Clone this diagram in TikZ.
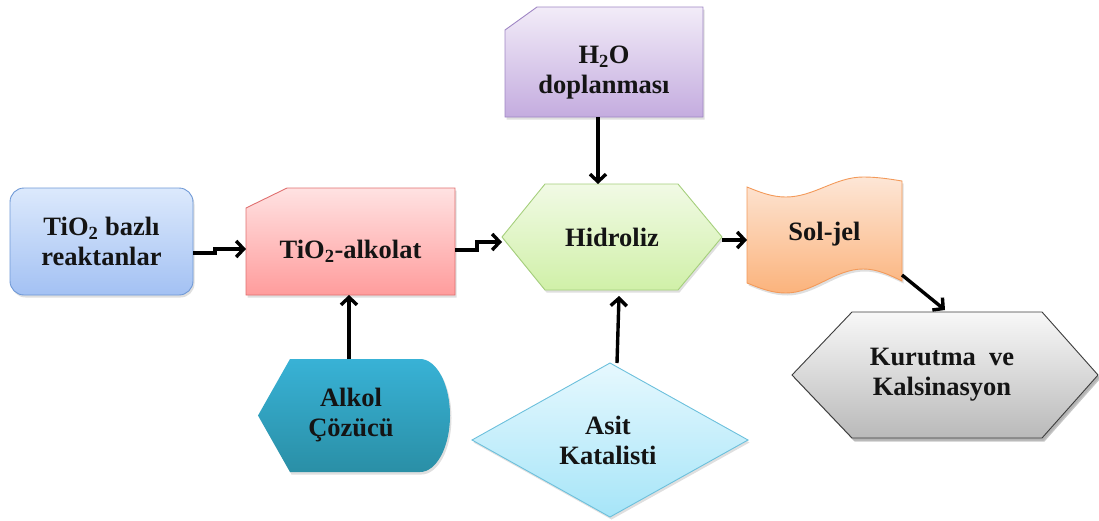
\documentclass[tikz,border=0pt]{standalone}
\usepackage{fontspec}
\setmainfont{Liberation Serif}
\usetikzlibrary{arrows.meta,shadows,calc}
\definecolor{reactT}{HTML}{DCE9FC}\definecolor{reactB}{HTML}{A3C1F3}\definecolor{reactD}{HTML}{6F99D6}
\definecolor{alkT}{HTML}{FFE2E2}\definecolor{alkB}{HTML}{FF9C9C}\definecolor{alkD}{HTML}{E07070}
\definecolor{hooT}{HTML}{F2ECF8}\definecolor{hooB}{HTML}{C4ACDF}\definecolor{hooD}{HTML}{9F86C4}
\definecolor{hydT}{HTML}{F1FAE5}\definecolor{hydB}{HTML}{D0F0A8}\definecolor{hydD}{HTML}{A5CF7C}
\definecolor{solT}{HTML}{FDE6D6}\definecolor{solB}{HTML}{FBB37C}\definecolor{solD}{HTML}{F39A5A}
\definecolor{alcT}{HTML}{38B2D6}\definecolor{alcB}{HTML}{2A8FA6}
\definecolor{asitT}{HTML}{E6F8FE}\definecolor{asitB}{HTML}{A6E5F8}\definecolor{asitD}{HTML}{6CC0DC}
\definecolor{kurT}{HTML}{F8F8F8}\definecolor{kurB}{HTML}{B9B9B9}\definecolor{kurD}{HTML}{3C3C3C}
\begin{document}
\begin{tikzpicture}[x=1pt,y=-1pt,
  box/.style={rectangle,inner sep=0pt,outer sep=0pt,draw=none},
  txt/.style={font=\fontsize{26.5}{30}\selectfont\bfseries,align=center,text=black!92,inner sep=0pt},
  shp/.style={line width=0.9pt,drop shadow={shadow xshift=1.5pt,shadow yshift=-2.5pt,opacity=0.25}},
  conn/.style={line width=3.4pt,black,-{Straight Barb[length=7.5pt,width=16pt]}}
]
\useasboundingbox (0,0) rectangle (1099,520);

% anchor nodes (shape frames)
\node[box,minimum width=183pt,minimum height=107pt] (react) at (101.5,241.5) {};
\node[box,minimum width=209pt,minimum height=107pt] (alk) at (350.5,241.5) {};
\node[box,minimum width=198pt,minimum height=110pt] (h2o) at (604,62) {};
\node[box,minimum width=220pt,minimum height=106pt] (hyd) at (612,237) {};
\node[box,minimum width=155pt,minimum height=118pt] (sol) at (824.5,234) {};
\node[box,minimum width=192pt,minimum height=113pt] (alc) at (354,415.5) {};
\node[box,minimum width=276pt,minimum height=154pt] (asit) at (610,440) {};
\node[box,minimum width=306pt,minimum height=126pt] (kur) at (945,375) {};

% shapes
\path[shp,draw=reactD,top color=reactT,bottom color=reactB,rounded corners=14pt]
  (react.north west) rectangle (react.south east);
\path[shp,draw=alkD,top color=alkT,bottom color=alkB]
  ($(alk.north west)+(0,20)$) -- ($(alk.north west)+(41,0)$) -- (alk.north east)
  -- (alk.south east) -- (alk.south west) -- cycle;
\path[shp,draw=hooD,top color=hooT,bottom color=hooB]
  ($(h2o.north west)+(0,23)$) -- ($(h2o.north west)+(32,0)$) -- (h2o.north east)
  -- (h2o.south east) -- (h2o.south west) -- cycle;
\path[shp,draw=hydD,top color=hydT,bottom color=hydB]
  (hyd.west) -- ($(hyd.north west)+(43,0)$) -- ($(hyd.north east)+(-44,0)$) -- (hyd.east)
  -- ($(hyd.south east)+(-44,0)$) -- ($(hyd.south west)+(43,0)$) -- cycle;
\path[shp,draw=solD,top color=solT,bottom color=solB]
  ($(sol.north west)+(0,12)$) sin ($(sol.north west)+(38.75,22)$) cos ($(sol.north west)+(77.5,12)$)
  sin ($(sol.north west)+(116.25,2)$) cos ($(sol.north west)+(155,6)$)
  -- ($(sol.south east)+(0,-12)$) sin ($(sol.south east)+(-38.75,-24)$) cos ($(sol.south east)+(-77.5,-12)$)
  sin ($(sol.south east)+(-116.25,0)$) cos ($(sol.south east)+(-155,-10)$) -- cycle;
\path[shp,top color=alcT,bottom color=alcB]
  (alc.west) -- ($(alc.north west)+(32,0)$) -- ($(alc.north east)+(-30,0)$)
  arc[start angle=90,end angle=-90,x radius=30pt,y radius=56.5pt]
  -- ($(alc.south west)+(32,0)$) -- cycle;
\path[shp,draw=asitD,top color=asitT,bottom color=asitB]
  (asit.north) -- (asit.east) -- (asit.south) -- (asit.west) -- cycle;
\path[shp,draw=kurD,top color=kurT,bottom color=kurB,drop shadow={shadow xshift=2.5pt,shadow yshift=-3.5pt,opacity=0.45}]
  (kur.west) -- ($(kur.north west)+(60,0)$) -- ($(kur.north east)+(-56,0)$) -- (kur.east)
  -- ($(kur.south east)+(-56,0)$) -- ($(kur.south west)+(60,0)$) -- cycle;

% texts
\node[txt] (reactT) at (react.center) {TiO\textsubscript{2} bazlı\\reaktanlar};
\node[txt] (alkT) at ([yshift=-10pt]alk.center) {TiO\textsubscript{2}-alkolat};
\node[txt] (h2oT) at ([yshift=-11pt]h2o.center) {H\textsubscript{2}O\\doplanması};
\node[txt] (hydT) at (hyd.center) {Hidroliz};
\node[txt] (solT) at (sol.center) {Sol-jel};
\node[txt] (alcT) at ([xshift=-3pt]alc.center) {Alkol\\Çözücü};
\node[txt] (asitT) at ([xshift=-2pt]asit.center) {Asit\\Katalisti};
\node[txt] (kurT) at ([xshift=-3pt]kur.center) {Kurutma\ \ ve\\Kalsinasyon};

% connectors
\draw[conn] ([yshift=-11.5pt]react.east) -- ++(22,0) |- ([yshift=-7.5pt]alk.west);
\draw[conn] ([yshift=-8.5pt]alk.east) -- ++(22,0) |- ([yshift=-5pt]hyd.west);
\draw[conn] ([xshift=-6pt]h2o.south) -- ([xshift=-14pt]hyd.north);
\draw[conn] ([xshift=-5pt]alc.north) -- ([xshift=-1.5pt]alk.south);
\draw[conn] ([xshift=7pt]asit.north) -- ([xshift=7pt,yshift=-6pt]hyd.south);
\draw[conn] ([yshift=-3pt]hyd.east) -- ([yshift=-6pt]sol.west);
\draw[conn] ([yshift=18pt]sol.south east) -- ([yshift=2pt]kur.north);
\end{tikzpicture}
\end{document}
